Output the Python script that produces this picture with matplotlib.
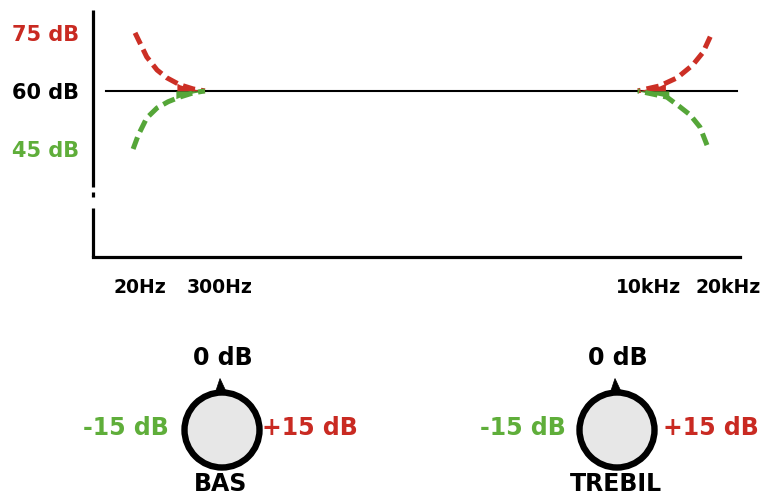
import matplotlib
matplotlib.use("Agg")
import matplotlib.pyplot as plt
from matplotlib.patches import Circle, Polygon
import numpy as np

plt.rcParams['font.family'] = ['DejaVu Sans']
plt.rcParams['font.weight'] = 'bold'

RED = "#cc2f25"
GREEN = "#55a638"
RED_TXT = "#c92a22"
GREEN_TXT = "#5fae3a"

# Level axis (dB) and frequency positions on a nominal 0-100 scale
level_ticks = [45, 60, 75]
level_labels = ["45 dB", "60 dB", "75 dB"]
level_colors = [GREEN_TXT, "black", RED_TXT]
flat_level = 60

freq_pos = [7.3, 19.6, 85.8, 98.2]
freq_labels = ["20Hz", "300Hz", "10kHz", "20kHz"]

# Bass boost / cut curves (listed from the band edge inward)
bass_boost_x = [6.5, 8.3, 9.9, 11.4, 13.4, 15.5, 17.3]
bass_boost_db = [75, 68.8, 65.4, 63.4, 61.6, 60.5, 60]
bass_cut_x = [6.2, 7.0, 8.3, 9.9, 11.6, 13.4, 15.5, 17.3]
bass_cut_db = [45, 48.6, 53, 55.6, 57.2, 58.4, 59.5, 60]

# Treble boost / cut curves (listed from the band edge inward)
treble_boost_x = [95.4, 94.3, 92.7, 90.3, 87.6, 84.2]
treble_boost_db = [74, 70, 66.7, 63.4, 61.3, 60]
treble_cut_x = [94.9, 93.8, 92.3, 90.7, 88.7, 84.2]
treble_cut_db = [46, 50.7, 53.8, 55.9, 58.4, 60]

fig = plt.figure(figsize=(7.68, 5.0), dpi=100)
fig.patch.set_facecolor("white")

ax = fig.add_axes([93 / 768, 243 / 500, 647 / 768, 247 / 500])
ax.set_xlim(0, 100)
ax.set_ylim(17.1, 80.9)
ax.set_facecolor("none")

for s in ["top", "right", "left"]:
    ax.spines[s].set_visible(False)
ax.spines["bottom"].set_linewidth(2.3)

# broken level axis
for y0, y1 in [(0.0, 0.198), (0.243, 0.263), (0.283, 1.0)]:
    ax.plot([0, 0], [y0, y1], color="black", lw=2.3, transform=ax.transAxes,
            clip_on=False, solid_capstyle="butt")

ax.set_yticks(level_ticks)
ax.set_yticklabels(level_labels, fontsize=15, fontweight="bold")
for lab, c in zip(ax.get_yticklabels(), level_colors):
    lab.set_color(c)
ax.tick_params(axis="y", length=0, pad=10)

ax.set_xticks(freq_pos)
ax.set_xticklabels(freq_labels, fontsize=13.5, fontweight="bold")
ax.tick_params(axis="x", length=0, pad=15)

ax.axhline(flat_level, xmin=0.02, xmax=0.995, color="black", lw=1.5)


def draw_curve(xs, ys, color):
    xs = np.asarray(xs, float)
    ys = np.asarray(ys, float)
    ax.plot(xs, ys, color=color, lw=3.6, dashes=(2.5, 1.2),
            dash_capstyle="butt", zorder=3)
    # solid wedge where the curve merges into the flat line
    xx = np.linspace(xs.min(), xs.max(), 300)
    order = np.argsort(xs)
    yy = np.interp(xx, xs[order], ys[order])
    mask = np.abs(yy - flat_level) < 2.0
    ax.fill_between(xx[mask], flat_level, yy[mask], color=color, lw=0, zorder=3)


draw_curve(bass_boost_x, bass_boost_db, RED)
draw_curve(bass_cut_x, bass_cut_db, GREEN)
draw_curve(treble_boost_x, treble_boost_db, RED)
draw_curve(treble_cut_x, treble_cut_db, GREEN)

# Control knobs drawn in a pixel-space overlay
ov = fig.add_axes([0, 0, 1, 1])
ov.set_xlim(0, 768)
ov.set_ylim(500, 0)
ov.axis("off")
ov.patch.set_visible(False)


def knob(cx, cy, name, name_y, minus_x, plus_x):
    r = 37.5
    ov.add_patch(Circle((cx, cy), r, facecolor="#e7e7e7", edgecolor="black", lw=4.6))
    ov.add_patch(Polygon([[cx - 2, cy - r - 14], [cx - 7, cy - r + 1], [cx + 5, cy - r + 1]],
                         closed=True, facecolor="black", edgecolor="black", lw=0.5))
    ov.text(cx + 1, cy - 72, "0 dB", ha="center", va="center", fontsize=17, fontweight="bold")
    ov.text(cx - 1, name_y, name, ha="center", va="center", fontsize=17, fontweight="bold")
    ov.text(minus_x, cy - 2, "-15 dB", ha="center", va="center", fontsize=17,
            fontweight="bold", color=GREEN_TXT)
    ov.text(plus_x, cy - 2, "+15 dB", ha="center", va="center", fontsize=17,
            fontweight="bold", color=RED_TXT)


knob(222, 430, "BAS", 484, 126, 310)
knob(617, 430, "TREBIL", 484, 523, 711)

fig.savefig("out.png", dpi=100, facecolor="white")
